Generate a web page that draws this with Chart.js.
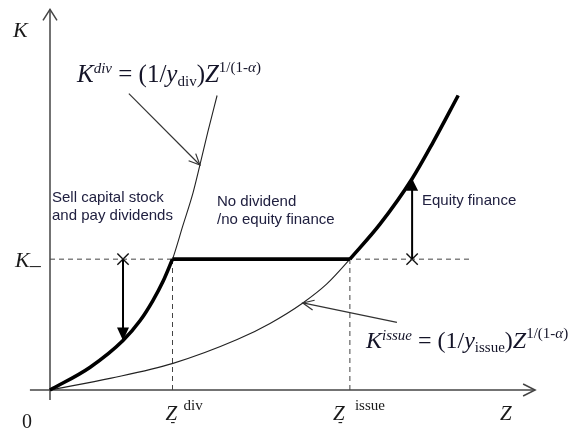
<!DOCTYPE html>
<html><head><meta charset="utf-8">
<script src="https://cdn.jsdelivr.net/npm/chart.js@4.4.0/dist/chart.umd.min.js"></script>
<style>html,body{margin:0;padding:0;background:#fff}#c{display:block}</style>
</head><body>
<canvas id="c" width="582" height="433"></canvas>
<script>
// ---- Data (arbitrary units) ----
const divZ   = [0, 0.82, 1.49, 1.84, 2.10, 2.31, 2.50, 2.71, 2.92, 3.06, 3.22, 3.41];
const divK   = [0, 0.48, 1.04, 1.46, 1.88, 2.29, 2.75, 3.45, 4.15, 4.73, 5.42, 6.19];
const issueZ = [0, 1.25, 2.51, 3.82, 4.49, 5.16, 5.65, 6.12, 6.73, 7.39, 7.82, 8.33];
const issueK = [0, 0.25, 0.56, 1.06, 1.40, 1.83, 2.23, 2.75, 3.48, 4.44, 5.21, 6.19];
const zDiv = 2.50, zIssue = 6.12, kBar = 2.75;
const kinkDiv = 6, kinkIssue = 7;        // index of kink points
const sellIdx = 2, equityIdx = 9;        // arrow positions on curves
const divNoteIdx = 9, issueNoteIdx = 5;  // pointer targets
const xAxisRange = [-0.41, 9.9];
const yAxisRange = [-0.21, 8.0];
const kBarEnd = 8.63;

const SERIF = '"Liberation Serif","Times New Roman",serif';
const SANS  = '"Liberation Sans",Arial,sans-serif';
const INK = '#1a1a1a';
const TXT = '#202040';

const pts = (zs, ks) => zs.map((z, i) => ({x: z, y: ks[i]}));
const seg = (a, b) => [{x: a[0], y: a[1]}, {x: b[0], y: b[1]}];
const line = (data, color, width, extra) => Object.assign({
  data, showLine: true, pointRadius: 0, borderColor: color, borderWidth: width,
  fill: false, tension: 0, clip: false
}, extra || {});

const datasets = [
  // bold policy path
  line(pts(divZ.slice(0, kinkDiv + 1), divK.slice(0, kinkDiv + 1)), '#000', 3.6, {cubicInterpolationMode: 'monotone'}),
  line(seg([zDiv, kBar], [zIssue, kBar]), '#000', 3.6),
  line(pts(issueZ.slice(kinkIssue), issueK.slice(kinkIssue)), '#000', 3.6, {cubicInterpolationMode: 'monotone'}),
  // thin curves
  line(pts(divZ, divK), '#222', 1.1, {cubicInterpolationMode: 'monotone'}),
  line(pts(issueZ, issueK), '#222', 1.1, {cubicInterpolationMode: 'monotone'}),
  // vertical arrows
  line(seg([divZ[sellIdx], kBar], [divZ[sellIdx], divK[sellIdx]]), '#000', 2),
  line(seg([issueZ[equityIdx], kBar], [issueZ[equityIdx], issueK[equityIdx]]), '#000', 2),
  // pointers
  line(seg([1.61, 6.23], [divZ[divNoteIdx], divK[divNoteIdx]]), '#333', 1.2),
  line(seg([7.08, 1.42], [issueZ[issueNoteIdx], issueK[issueNoteIdx]]), '#333', 1.2),
  // dashed guides
  line(seg([0, kBar], [kBarEnd, kBar]), '#444', 1, {borderDash: [5, 4]}),
  line(seg([zDiv, 0], [zDiv, kBar]), '#444', 1, {borderDash: [5, 4]}),
  line(seg([zIssue, 0], [zIssue, kBar]), '#444', 1, {borderDash: [5, 4]}),
  // axes
  line(seg([xAxisRange[0], 0], [xAxisRange[1], 0]), '#444', 1.5),
  line(seg([0, yAxisRange[0]], [0, yAxisRange[1]]), '#444', 1.5),
  // X marks
  {data: [{x: divZ[sellIdx], y: kBar}, {x: issueZ[equityIdx], y: kBar}], showLine: false,
   pointStyle: 'crossRot', pointRadius: 8, pointBorderWidth: 1.4, borderColor: '#111', clip: false}
];

function head(ctx, x0, y0, x1, y1, len, half, filled, color, lw) {
  const a = Math.atan2(y1 - y0, x1 - x0);
  const bx = x1 - len * Math.cos(a), by = y1 - len * Math.sin(a);
  const nx = -Math.sin(a) * half, ny = Math.cos(a) * half;
  ctx.save();
  ctx.strokeStyle = color; ctx.fillStyle = color; ctx.lineWidth = lw;
  ctx.beginPath();
  if (filled) {
    ctx.moveTo(x1, y1); ctx.lineTo(bx + nx, by + ny); ctx.lineTo(bx - nx, by - ny); ctx.closePath(); ctx.fill();
  } else {
    ctx.moveTo(bx + nx, by + ny); ctx.lineTo(x1, y1); ctx.lineTo(bx - nx, by - ny); ctx.stroke();
  }
  ctx.restore();
}
function rich(ctx, x, y, segs, color) {
  let cx = x;
  ctx.fillStyle = color; ctx.textBaseline = 'alphabetic'; ctx.textAlign = 'left';
  for (const [t, font, dy] of segs) {
    ctx.font = font; ctx.fillText(t, cx, y + (dy || 0)); cx += ctx.measureText(t).width;
  }
}

const deco = {
  id: 'deco',
  afterDatasetsDraw(chart) {
    const {ctx, scales: {x, y}} = chart;
    const P = (z, k) => [x.getPixelForValue(z), y.getPixelForValue(k)];
    // axis arrowheads
    let a = P(0, yAxisRange[0]), b = P(0, yAxisRange[1]);
    head(ctx, a[0], a[1], b[0], b[1], 11, 7, false, '#444', 1.5);
    a = P(xAxisRange[0], 0); b = P(xAxisRange[1], 0);
    head(ctx, a[0], a[1], b[0], b[1], 12, 6, false, '#444', 1.5);
    // vertical arrow heads
    a = P(divZ[sellIdx], kBar); b = P(divZ[sellIdx], divK[sellIdx]);
    head(ctx, a[0], a[1], b[0], b[1], 13, 6, true, '#000', 1);
    a = P(issueZ[equityIdx], kBar); b = P(issueZ[equityIdx], issueK[equityIdx]);
    head(ctx, a[0], a[1], b[0], b[1], 12, 6, true, '#000', 1);
    // pointer heads
    a = P(1.61, 6.23); b = P(divZ[divNoteIdx], divK[divNoteIdx]);
    head(ctx, a[0], a[1], b[0], b[1], 11, 5, false, '#333', 1.2);
    a = P(7.08, 1.42); b = P(issueZ[issueNoteIdx], issueK[issueNoteIdx]);
    head(ctx, a[0], a[1], b[0], b[1], 11, 5, false, '#333', 1.2);

    // texts
    rich(ctx, 13, 37, [['K', 'italic 22px ' + SERIF]], INK);
    const kb = P(0, kBar);
    rich(ctx, 15, kb[1] + 8, [['K', 'italic 22px ' + SERIF], ['\u2013', '22px ' + SERIF, 5]], INK);
    rich(ctx, 22, 428, [['0', '20px ' + SERIF]], INK);
    rich(ctx, 500, 420, [['Z', 'italic 21px ' + SERIF]], INK);

    const zd = P(zDiv, 0)[0];
    rich(ctx, zd - 7, 420, [['Z', 'italic 21px ' + SERIF]], INK);
    rich(ctx, zd + 11, 410, [['div', '15px ' + SERIF]], INK);
    rich(ctx, zd - 2, 426, [['-', '14px ' + SERIF]], INK);
    const zi = P(zIssue, 0)[0];
    rich(ctx, zi - 17, 420, [['Z', 'italic 21px ' + SERIF]], INK);
    rich(ctx, zi + 5, 410, [['issue', '15px ' + SERIF]], INK);
    rich(ctx, zi - 12, 426, [['-', '14px ' + SERIF]], INK);

    const F = 'px ' + SERIF;
    rich(ctx, 77, 82, [
      ['K', 'italic 25' + F], ['div', 'italic 15' + F, -9], [' = (1/', '25' + F], ['y', 'italic 25' + F],
      ['div', '15' + F, 4], [')', '25' + F], ['Z', 'italic 25' + F],
      ['1/(1-', '15' + F, -10], ['\u03b1', 'italic 15' + F, -10], [')', '15' + F, -10]
    ], '#141428');
    rich(ctx, 366, 348, [
      ['K', 'italic 24' + F], ['issue', 'italic 15' + F, -8], [' = (1/', '24' + F], ['y', 'italic 24' + F],
      ['issue', '15' + F, 4], [')', '24' + F], ['Z', 'italic 24' + F],
      ['1/(1-', '15' + F, -10], ['\u03b1', 'italic 15' + F, -10], [')', '15' + F, -10]
    ], '#141428');

    const S = '15px ' + SANS;
    rich(ctx, 52, 202, [['Sell capital stock', S]], TXT);
    rich(ctx, 52, 220, [['and pay dividends', S]], TXT);
    rich(ctx, 217, 206, [['No dividend', S]], TXT);
    rich(ctx, 217, 224, [['/no equity finance', S]], TXT);
    rich(ctx, 422, 205, [['Equity finance', S]], TXT);
  }
};

new Chart(document.getElementById('c'), {
  type: 'scatter',
  data: {datasets},
  options: {
    responsive: false, animation: false, devicePixelRatio: 1, events: [],
    layout: {padding: {left: 50, right: 42, top: 6, bottom: 43}},
    scales: {
      x: {type: 'linear', min: 0, max: 10, display: false},
      y: {type: 'linear', min: 0, max: 8, display: false}
    },
    plugins: {legend: {display: false}, tooltip: {enabled: false}, title: {display: false}}
  },
  plugins: [deco]
});
</script>
</body></html>
